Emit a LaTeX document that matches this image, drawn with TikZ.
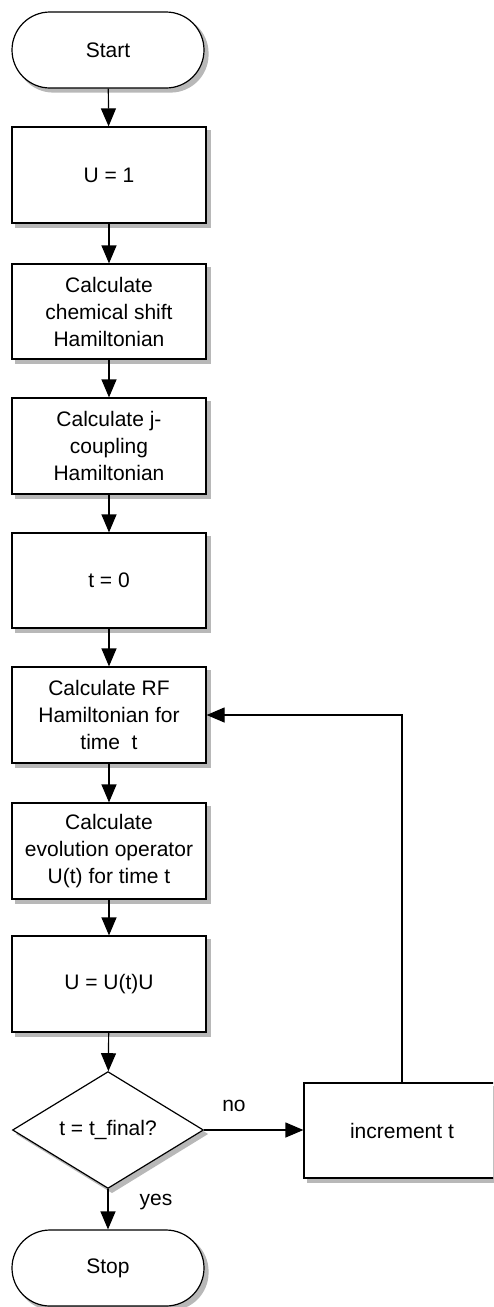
\documentclass[tikz,border=0pt]{standalone}
\usepackage{fontspec}
\setmainfont{Liberation Sans}
\usetikzlibrary{arrows.meta,shapes.geometric,backgrounds}
\begin{document}
\begin{tikzpicture}[x=1pt,y=-1pt,
  txt/.style={font=\fontsize{21}{27}\selectfont},
  box/.style={txt, draw, line width=1.2pt, fill=white, minimum width=194pt, minimum height=96pt, align=center, inner sep=0pt},
  term/.style={txt, draw, line width=1.2pt, fill=white, rounded corners=38pt, minimum width=192pt, minimum height=76pt, inner sep=0pt},
  decision/.style={txt, draw, line width=1.2pt, fill=white, shape=diamond, minimum width=191pt, minimum height=114pt, inner sep=0pt},
  arr/.style={line width=1.2pt, -{Triangle[length=18pt,width=15pt]}},
  lbl/.style={txt, inner sep=0pt},
  shadowfill/.style={fill=black!28}
]
\useasboundingbox (0,0) rectangle (493,1307);
\clip (0,0) rectangle (493,1307);
\node[term] (start) at (108,50) {Start};
\node[box] (u1) at (109,175) {U = 1};
\node[box, minimum height=95pt] (chem) at (109,311.5) {Calculate\\chemical shift\\Hamiltonian};
\node[box] (jc) at (109,446) {Calculate j-\\coupling\\Hamiltonian};
\node[box, minimum height=95pt] (t0) at (109,580.5) {t = 0};
\node[box] (rf) at (109,715) {Calculate RF\\Hamiltonian for\\time\ \ t};
\node[box] (evo) at (109,851) {Calculate\\evolution operator\\U(t) for time t};
\node[box] (uu) at (109,984) {U = U(t)U};
\node[decision] (dec) at (108,1130) {t = t\_final?};
\node[term] (stop) at (108,1268) {Stop};
\node[box, minimum height=95pt, minimum width=216pt] (inc) at (412,1130.5) {\hspace*{-20pt}increment t};

\begin{scope}[on background layer]
  \foreach \n in {u1,chem,jc,t0,rf,evo,uu,inc}
    \fill[shadowfill] ([shift={(4,4)}]\n.north west) rectangle ([shift={(4,4)}]\n.south east);
  \foreach \n in {start,stop}
    \fill[shadowfill, rounded corners=38pt] ([shift={(4,4)}]\n.north west) rectangle ([shift={(4,4)}]\n.south east);
  \fill[shadowfill] ([shift={(4,4)}]dec.north) -- ([shift={(4,4)}]dec.east) -- ([shift={(4,4)}]dec.south) -- ([shift={(4,4)}]dec.west) -- cycle;
\end{scope}

\draw[arr] (start) -- (u1);
\draw[arr] (u1) -- (chem);
\draw[arr] (chem) -- (jc);
\draw[arr] (jc) -- (t0);
\draw[arr] (t0) -- (rf);
\draw[arr] (rf) -- (evo);
\draw[arr] (evo) -- (uu);
\draw[arr] (uu) -- (dec);
\draw[arr] (dec) -- (stop);
\draw[arr] (dec.east) -- (inc.west |- dec.east);
\draw[arr] ([xshift=-10pt]inc.north) |- (rf.east);

\node[lbl] (no) at (234,1106) {no};
\node[lbl] (yes) at (156,1202) {yes};
\end{tikzpicture}
\end{document}
